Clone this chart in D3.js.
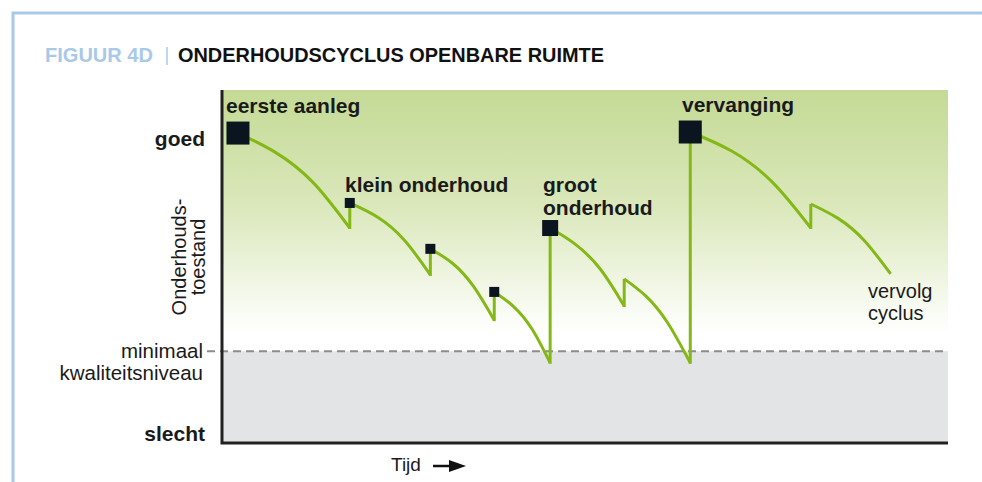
<!DOCTYPE html>
<html>
<head>
<meta charset="utf-8">
<script src="https://cdn.jsdelivr.net/npm/d3@7"></script>
<style>
  body { margin: 0; background: #fff; }
  svg { display: block; }
</style>
</head>
<body>
<div id="chart"></div>
<script>
// condition (0 = slecht, 100 = goed) over time, one array per decay arc
const segTime = [
  [2.2, 7.3, 12.5, 17.6],
  [17.6, 21.4, 25.1, 28.7],
  [28.7, 31.7, 34.6, 37.5],
  [37.5, 40.1, 42.7, 45.2],
  [45.2, 48.6, 52.1, 55.4],
  [55.4, 58.4, 61.4, 64.5],
  [64.5, 70.2, 75.8, 81.1],
  [81.1, 84.8, 88.4, 92.1]
];
const segCondition = [
  [87.8, 82.4, 73.9, 60.9],
  [68.0, 64.0, 57.5, 47.6],
  [55.0, 51.0, 44.5, 34.8],
  [42.8, 38.8, 32.3, 22.7],
  [60.9, 56.4, 49.3, 38.8],
  [46.5, 41.6, 34.0, 22.7],
  [88.1, 82.7, 73.9, 60.9],
  [67.7, 63.7, 57.5, 47.9]
];

// maintenance moments
const markerTime = [2.2, 17.6, 28.7, 37.5, 45.2, 64.5];
const markerCondition = [87.8, 68.0, 55.0, 42.8, 60.9, 88.1];
const markerType = ["aanleg", "klein", "klein", "klein", "groot", "vervanging"];

const minLevel = 26;   // minimaal kwaliteitsniveau

const width = 982, height = 482;
const plot = { left: 222, right: 948, top: 90, bottom: 443 };

const svg = d3.select("#chart").append("svg")
  .attr("width", width)
  .attr("height", height);

const x = d3.scaleLinear().domain([0, 100]).range([plot.left, plot.right]);
const y = d3.scaleLinear().domain([0, 100]).range([plot.bottom, plot.top]);

// frame lines
svg.append("path")
  .attr("d", `M13,${height} V13 H${width}`)
  .attr("fill", "none")
  .attr("stroke", "#a9c9e8")
  .attr("stroke-width", 3);

// title
svg.append("text")
  .attr("x", 45).attr("y", 62)
  .attr("font-family", "'Liberation Sans Narrow', 'Arial Narrow', sans-serif")
  .attr("font-weight", "bold").attr("font-size", 20)
  .attr("fill", "#a9c9e8")
  .attr("textLength", 108).attr("lengthAdjust", "spacingAndGlyphs")
  .text("FIGUUR 4D");
svg.append("line")
  .attr("x1", 167).attr("x2", 167).attr("y1", 47).attr("y2", 65)
  .attr("stroke", "#a9c9e8").attr("stroke-width", 1.5);
svg.append("text")
  .attr("x", 178).attr("y", 62)
  .attr("font-family", "'Liberation Sans Narrow', 'Arial Narrow', sans-serif")
  .attr("font-weight", "bold").attr("font-size", 20)
  .attr("fill", "#111")
  .attr("textLength", 426).attr("lengthAdjust", "spacingAndGlyphs")
  .text("ONDERHOUDSCYCLUS OPENBARE RUIMTE");

// background bands
const defs = svg.append("defs");
const grad = defs.append("linearGradient")
  .attr("id", "goodGrad").attr("x1", 0).attr("x2", 0).attr("y1", 0).attr("y2", 1);
grad.append("stop").attr("offset", "0%").attr("stop-color", "#c4da95");
grad.append("stop").attr("offset", "45%").attr("stop-color", "#dbe8bc");
grad.append("stop").attr("offset", "93%").attr("stop-color", "#ffffff");

svg.append("rect")
  .attr("x", x(0)).attr("y", y(100))
  .attr("width", x(100) - x(0)).attr("height", y(minLevel) - y(100))
  .attr("fill", "url(#goodGrad)");
svg.append("rect")
  .attr("x", x(0)).attr("y", y(minLevel))
  .attr("width", x(100) - x(0)).attr("height", y(0) - y(minLevel))
  .attr("fill", "#e3e4e6");

// minimum level dashed line
svg.append("line")
  .attr("x1", x(0) - 15).attr("x2", x(100))
  .attr("y1", y(minLevel)).attr("y2", y(minLevel))
  .attr("stroke", "#8c8c8c").attr("stroke-width", 2)
  .attr("stroke-dasharray", "8,5");

// axes
svg.append("path")
  .attr("d", `M${x(0)},${y(100)} V${y(0)} H${x(100)}`)
  .attr("fill", "none")
  .attr("stroke", "#222")
  .attr("stroke-width", 3);

// the cycle curve
const line = d3.line()
  .x(d => x(d[0]))
  .y(d => y(d[1]))
  .curve(d3.curveNatural);

const green = "#84b817";
segTime.forEach(function(ts, i) {
  const pts = ts.map((t, j) => [t, segCondition[i][j]]);
  svg.append("path")
    .attr("d", line(pts))
    .attr("fill", "none")
    .attr("stroke", green)
    .attr("stroke-width", 3);
  // jump up at the next maintenance moment
  if (i < segTime.length - 1) {
    const endT = ts[ts.length - 1], endQ = segCondition[i][ts.length - 1];
    const nextQ = segCondition[i + 1][0];
    svg.append("line")
      .attr("x1", x(endT)).attr("x2", x(endT))
      .attr("y1", y(endQ) + 1).attr("y2", y(nextQ))
      .attr("stroke", green)
      .attr("stroke-width", 3);
  }
});

// markers
const markerSize = { aanleg: 23, vervanging: 23, groot: 16, klein: 10 };
svg.selectAll("rect.marker")
  .data(markerTime)
  .enter().append("rect")
  .attr("class", "marker")
  .attr("x", (d, i) => x(d) - markerSize[markerType[i]] / 2)
  .attr("y", (d, i) => y(markerCondition[i]) - markerSize[markerType[i]] / 2)
  .attr("width", (d, i) => markerSize[markerType[i]])
  .attr("height", (d, i) => markerSize[markerType[i]])
  .attr("fill", "#0b1520");

// annotations
const font = "'Liberation Sans', Arial, sans-serif";
function label(px, py, txt, opts) {
  opts = opts || {};
  return svg.append("text")
    .attr("x", px).attr("y", py)
    .attr("font-family", font)
    .attr("font-weight", opts.weight || "bold")
    .attr("font-size", opts.size || 21)
    .attr("text-anchor", opts.anchor || "start")
    .attr("fill", "#1a1a1a")
    .text(txt);
}
label(226, 113, "eerste aanleg");
label(345, 192, "klein onderhoud");
label(543, 192, "groot");
label(543, 215, "onderhoud");
label(682, 112, "vervanging");
label(868, 298, "vervolg", { weight: "normal", size: 20 });
label(868, 320, "cyclus", { weight: "normal", size: 20 });

// y axis labels
label(205, 146, "goed", { anchor: "end" });
label(205, 441, "slecht", { anchor: "end" });
label(203, 358, "minimaal", { weight: "normal", size: 20.5, anchor: "end" });
label(203, 380, "kwaliteitsniveau", { weight: "normal", size: 20.5, anchor: "end" });

const yTitle = svg.append("text")
  .attr("transform", "translate(186,257) rotate(-90)")
  .attr("font-family", font)
  .attr("font-size", 20)
  .attr("text-anchor", "middle")
  .attr("fill", "#1a1a1a");
yTitle.append("tspan").attr("x", 0).attr("y", 0).text("Onderhouds-");
yTitle.append("tspan").attr("x", 0).attr("y", 19).text("toestand");

// x axis title with arrow
svg.append("text")
  .attr("x", 391).attr("y", 471)
  .attr("font-family", "'Liberation Sans Narrow', 'Arial Narrow', sans-serif")
  .attr("font-size", 19)
  .attr("fill", "#1a1a1a")
  .text("Tijd");
svg.append("line")
  .attr("x1", 433).attr("x2", 452).attr("y1", 466).attr("y2", 466)
  .attr("stroke", "#111").attr("stroke-width", 2.5);
svg.append("path")
  .attr("d", "M449,460 L466,466 L449,472 Z")
  .attr("fill", "#111");
</script>
</body>
</html>
